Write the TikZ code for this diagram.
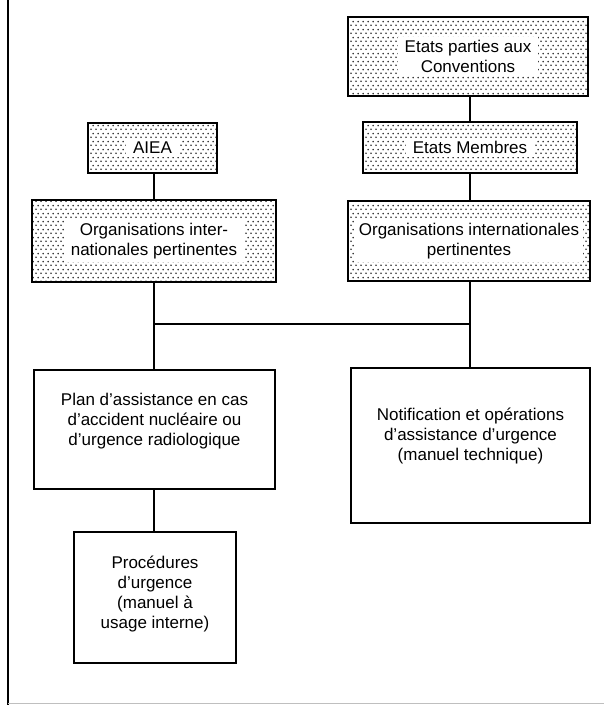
\documentclass[tikz,border=0pt]{standalone}
\usepackage{fontspec}
\setmainfont{Liberation Sans}
\usetikzlibrary{patterns.meta}

% staggered screen of dots used for the shaded boxes
\tikzdeclarepattern{
  name=printdots,
  type=uncolored,
  bottom left={(0pt,0pt)},
  top right={(5pt,8pt)},
  tile size={(5pt,8pt)},
  code={
    \fill (1.25pt,2pt) circle (1pt);
    \fill (3.75pt,6pt) circle (1pt);
  }
}

\tikzset{
  shaded/.style={draw, line width=1.8pt, inner sep=0pt,
    pattern=printdots, pattern color=black!85},
  plainbox/.style={draw, line width=1.5pt, fill=white, inner sep=0pt},
  lbl/.style={fill=white, align=center, inner xsep=7pt, inner ysep=3pt,
    font=\fontsize{17}{20}\selectfont},
  link/.style={line width=1.4pt},
}

\begin{document}
\begin{tikzpicture}[x=1pt, y=-1pt]
\useasboundingbox (0,0) rectangle (604,707);

% page rules
\draw[line width=1.8pt] (8,0) -- (8,705);
\draw[line width=0.8pt, black!25] (8,703) -- (604,703);

% shaded (dotted) boxes
\node[shaded, minimum width=240pt, minimum height=79pt] (etp)  at (468,56.5)  {};
\node[shaded, minimum width=214pt, minimum height=51pt] (em)   at (470,147.5) {};
\node[shaded, minimum width=129pt, minimum height=50pt] (aiea) at (152.5,148) {};
\node[shaded, minimum width=244pt, minimum height=82pt] (orgL) at (154,241)   {};
\node[shaded, minimum width=242pt, minimum height=80pt] (orgR) at (469,241)   {};

\node[lbl] at (etp)  {Etats parties aux\\Conventions};
\node[lbl] at (em)   {Etats Membres};
\node[lbl] at (aiea) {AIEA};
\node[lbl] at (orgL) {Organisations inter-\\nationales pertinentes};
\node[lbl, inner xsep=4pt] at (orgR) {Organisations internationales\\pertinentes};

% plain boxes
\node[plainbox, minimum width=241pt, minimum height=119pt] (plan)  at (154.5,429.5) {};
\node[plainbox, minimum width=239pt, minimum height=155pt] (notif) at (470.5,445.5) {};
\node[plainbox, minimum width=162pt, minimum height=131pt] (proc)  at (155,597.5)   {};

\node[lbl] at (154.5,421) {Plan d’assistance en cas\\d’accident nucléaire ou\\d’urgence radiologique};
\node[lbl] at (470.5,436) {Notification et opérations\\d’assistance d’urgence\\(manuel technique)};
\node[lbl] at (155,594)   {Procédures\\d’urgence\\(manuel à\\usage interne)};

% connectors
\coordinate (jL) at (154,324);
\coordinate (jR) at (470,324);
\draw[link] (etp.south -| em.north) -- (em.north);
\draw[link] (em.south) -- (orgR.north -| em.south);
\draw[link] (aiea.south -| orgL.north) -- (orgL.north);
\draw[link] (orgL.south) -- (jL);
\draw[link] (jL) -- (plan.north -| jL);
\draw[link] (orgR.south -| jR) -- (jR);
\draw[link] (jR) -- (notif.north -| jR);
\draw[link] (jL) -- (jR);
\draw[link] (plan.south -| jL) -- (proc.north -| jL);
\end{tikzpicture}
\end{document}
